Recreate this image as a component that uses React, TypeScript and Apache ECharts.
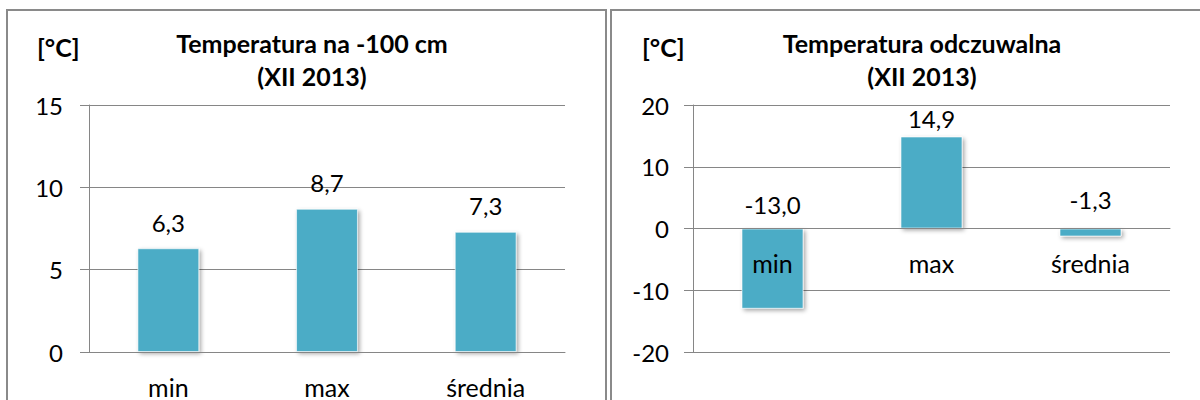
import React, { useEffect, useRef } from "react";
import * as echarts from "echarts";

const categories = ["min", "max", "średnia"];
const soilValues = [6.3, 8.7, 7.3];
const feltValues = [-13.0, 14.9, -1.3];
const soilTitle = "Temperatura na -100 cm";
const feltTitle = "Temperatura odczuwalna";
const periodLabel = "(XII 2013)";
const unitLabel = "[°C]";

const FONT = "Lato, 'Open Sans', sans-serif";
const GRAY = "#868686";
const BAR = "#4BACC6";

const GRID_TOP = 105;
const GRID_BOTTOM = 48;
const GRID_H = 400 - GRID_TOP - GRID_BOTTOM;

const fmt = (v: number) => v.toFixed(1).replace(".", ",");

function makeSeries(values: number[], idx: number, distances: number[]) {
  return {
    type: "bar",
    xAxisIndex: idx,
    yAxisIndex: idx,
    barWidth: "39%",
    data: values.map((v, i) => ({
      value: v,
      label: { distance: distances[i] },
    })),
    itemStyle: {
      color: BAR,
      borderColor: "rgba(255,255,255,0.6)",
      borderWidth: 1,
      shadowColor: "rgba(0,0,0,0.35)",
      shadowBlur: 4,
      shadowOffsetX: 2,
      shadowOffsetY: 2,
    },
    label: {
      show: true,
      position: "top",
      color: "#000",
      fontFamily: FONT,
      fontSize: 24,
      formatter: (p: any) => fmt(p.value),
    },
  };
}

function xAxis(idx: number, yMin: number, yMax: number) {
  // place the category axis on the value 0 of the value axis
  const offset = yMin < 0 ? -GRID_H * (0 - yMin) / (yMax - yMin) : 0;
  return {
    type: "category",
    gridIndex: idx,
    data: categories,
    offset,
    z: 3,
    axisLine: { show: true, onZero: false, lineStyle: { color: GRAY, width: 1 } },
    axisTick: { show: false },
    axisLabel: { color: "#000", fontFamily: FONT, fontSize: 25, margin: 22 },
  };
}

function yAxis(idx: number, min: number, max: number, interval: number, margin: number) {
  return {
    type: "value",
    gridIndex: idx,
    min,
    max,
    interval,
    axisLine: { show: true, lineStyle: { color: GRAY, width: 1 } },
    axisTick: { show: true, length: 9, lineStyle: { color: GRAY, width: 1 } },
    splitLine: { show: true, lineStyle: { color: GRAY, width: 1 } },
    axisLabel: { color: "#000", fontFamily: FONT, fontSize: 24, margin },
  };
}

function titleTexts(cx: number, mainText: string, unitX: number) {
  const font = `bold 25px ${FONT}`;
  return [
    {
      type: "text",
      x: cx,
      y: 43,
      style: { text: mainText, fill: "#000", font, textAlign: "center", textVerticalAlign: "middle" },
    },
    {
      type: "text",
      x: cx,
      y: 76,
      style: { text: periodLabel, fill: "#000", font, textAlign: "center", textVerticalAlign: "middle" },
    },
    {
      type: "text",
      x: unitX,
      y: 47,
      style: { text: unitLabel, fill: "#000", font, textAlign: "left", textVerticalAlign: "middle" },
    },
  ];
}

export default function App() {
  const ref = useRef<HTMLDivElement>(null);
  useEffect(() => {
    if (!ref.current) return;
    const chart = echarts.init(ref.current, undefined, { renderer: "svg" });
    chart.setOption({
      animation: false,
      backgroundColor: "#fff",
      grid: [
        { left: 89, right: 635, top: GRID_TOP, bottom: GRID_BOTTOM },
        { left: 693, right: 30, top: GRID_TOP, bottom: GRID_BOTTOM },
      ],
      xAxis: [xAxis(0, 0, 15), xAxis(1, -20, 20)],
      yAxis: [yAxis(0, 0, 15, 5, 26), yAxis(1, -20, 20, 10, 24)],
      series: [
        makeSeries(soilValues, 0, [14, 14, 14]),
        makeSeries(feltValues, 1, [12, 6, 17]),
      ],
      graphic: [
        {
          type: "rect",
          shape: { x: 7, y: 10, width: 599, height: 420 },
          style: { fill: "none", stroke: "#8a8a8a", lineWidth: 2 },
          silent: true,
        },
        {
          type: "rect",
          shape: { x: 611, y: 10, width: 620, height: 420 },
          style: { fill: "none", stroke: "#8a8a8a", lineWidth: 2 },
          silent: true,
        },
        ...titleTexts(312, soilTitle, 37),
        ...titleTexts(922, feltTitle, 642),
      ],
    });
    return () => chart.dispose();
  }, []);
  return (
    <div
      ref={ref}
      style={{ position: "absolute", left: 0, top: 0, width: 1200, height: 400, background: "#fff" }}
    />
  );
}
